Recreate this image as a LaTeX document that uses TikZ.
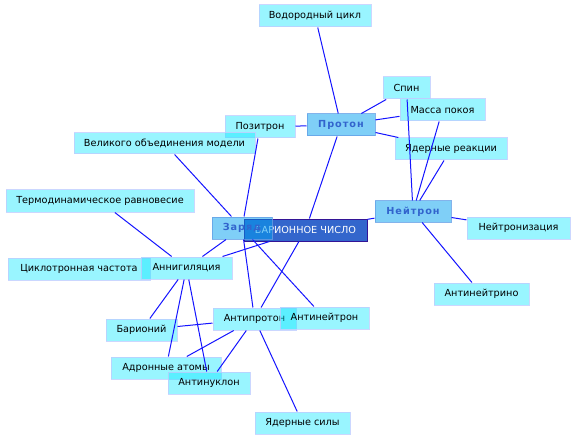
\documentclass[tikz,border=0pt]{standalone}
\usepackage{fontspec}
\setmainfont{DejaVu Sans}
\begin{document}
\begin{tikzpicture}[x=1pt,y=-1pt,
  base/.style={rectangle, minimum height=22pt, inner xsep=1pt, inner ysep=0pt, line width=1pt, font=\fontsize{9.7}{11}\selectfont},
  lt/.style={base, fill={rgb,255:red,0;green,232;blue,255}, fill opacity=0.4, text opacity=1, draw={rgb,255:red,190;green,205;blue,255}, draw opacity=0.8},
  md/.style={base, fill={rgb,255:red,0;green,161;blue,241}, fill opacity=0.5, text opacity=1, draw={rgb,255:red,100;green,160;blue,230}, draw opacity=0.8, text={rgb,255:red,50;green,100;blue,205}, font=\fontsize{9.7}{11}\selectfont\bfseries\addfontfeature{LetterSpace=10}},
  dk/.style={base, fill={rgb,255:red,51;green,102;blue,204}, draw={rgb,255:red,51;green,20;blue,150}, text=white},
  edge/.style={draw={rgb,255:red,20;green,20;blue,255}, line width=1pt}]
\useasboundingbox (0,0) rectangle (576,441);
\fill[white] (0,0) rectangle (576,441);
% nodes
\node[lt, minimum width=112pt] (vod) at (315,16) {Водородный цикл};
\node[lt, minimum width=47pt] (spin) at (406.5,88) {Спин};
\node[lt, minimum width=85pt] (mass) at (442.5,110) {Масса покоя};
\node[md, minimum width=68pt] (proton) at (341,125) {Протон};
\node[lt, minimum width=70pt] (positron) at (260,127) {Позитрон};
\node[lt, minimum width=181pt, minimum height=21pt] (gut) at (164.5,143.5) {Великого объединения модели};
\node[lt, minimum width=112pt] (nucreac) at (451,149) {Ядерные реакции};
\node[lt, minimum width=188pt] (thermo) at (100,201) {Термодинамическое равновесие};
\node[md, minimum width=76pt, minimum height=21pt] (neutron) at (413,211.5) {Нейтрон};
\node[lt, minimum width=103pt] (neutroniz) at (518.5,228) {Нейтронизация};
\node[dk, minimum width=123pt] (baryon) at (305.5,230) {БАРИОННОЕ ЧИСЛО};
\node[md, minimum width=60pt] (charge) at (242,228) {Заряд};
\node[lt, minimum width=142pt] (cyclo) at (79,269) {Циклотронная частота};
\node[lt, minimum width=91pt] (annih) at (186.5,268) {Аннигиляция};
\node[lt, minimum width=95pt] (antinu) at (481.5,294) {Антинейтрино};
\node[lt, minimum width=83pt] (antiproton) at (254.5,319) {Антипротон};
\node[lt, minimum width=89pt] (antineutron) at (324.5,318) {Антинейтрон};
\node[lt, minimum width=71pt] (barionium) at (141.5,330) {Барионий};
\node[lt, minimum width=110pt] (hadron) at (166,368) {Адронные атомы};
\node[lt, minimum width=82pt] (antinucleon) at (209,383) {Антинуклон};
\node[lt, minimum width=95pt] (nucforce) at (302.5,423) {Ядерные силы};
% edges
\draw[edge] (vod) -- (proton);
\draw[edge] (proton) -- (spin);
\draw[edge] (proton) -- (mass);
\draw[edge] (proton) -- (nucreac);
\draw[edge] (proton) -- (positron);
\draw[edge] (proton) -- (baryon);
\draw[edge] (neutron) -- (spin);
\draw[edge] (neutron) -- (mass);
\draw[edge] (neutron) -- (nucreac);
\draw[edge] (neutron) -- (baryon);
\draw[edge] (neutron) -- (neutroniz);
\draw[edge] (neutron) -- (antinu);
\draw[edge] (positron) -- (charge);
\draw[edge] (gut) -- (charge);
\draw[edge] (charge) -- (annih);
\draw[edge] (charge) -- (antiproton);
\draw[edge] (charge) -- (antineutron);
\draw[edge] (baryon) -- (annih);
\draw[edge] (baryon) -- (antiproton);
\draw[edge] (thermo) -- (annih);
\draw[edge] (annih) -- (barionium);
\draw[edge] (annih) -- (hadron);
\draw[edge] (annih) -- (antinucleon);
\draw[edge] (antiproton) -- (barionium);
\draw[edge] (antiproton) -- (hadron);
\draw[edge] (antiproton) -- (antinucleon);
\draw[edge] (antiproton) -- (nucforce);
\end{tikzpicture}
\end{document}
